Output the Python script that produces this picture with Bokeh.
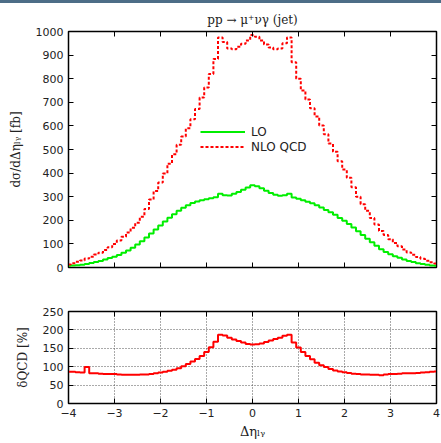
import numpy as np
from bokeh.plotting import figure
from bokeh.models import (Range1d, LinearAxis, FixedTicker, Legend, LegendItem, Div)
from bokeh.layouts import column
from bokeh.embed import file_html
from bokeh.resources import INLINE

# ---- data (bin centres, width 0.1) ----
eta_centers = np.round(np.arange(-40, 41) / 10.0, 1)

lo_fb = [7, 8, 10, 12, 15, 19, 23, 28, 34, 40,
         46, 53, 62, 72, 84, 97, 111, 127, 144, 161,
         178, 195, 211, 226, 240, 253, 264, 273, 280, 285,
         289, 293, 298, 312, 306, 305, 312, 320, 329, 339,
         348,
         344, 336, 325, 316, 308, 304, 306, 313, 297, 291,
         285, 279, 272, 264, 254, 244, 234, 223, 210, 198,
         184, 170, 154, 138, 122, 107, 92, 77, 66, 56,
         48, 41, 34, 28, 23, 18, 15, 12, 9, 7]

nlo_fb = [13, 18, 24, 30, 38, 46, 55, 63, 74, 86,
          100, 114, 130, 148, 168, 190, 215, 248, 288, 324,
          360, 398, 440, 480, 520, 555, 590, 628, 672, 720,
          763, 820, 884, 975, 955, 928, 925, 935, 948, 962,
          985,
          978, 962, 945, 932, 925, 928, 950, 975, 870, 800,
          750, 712, 675, 640, 602, 565, 525, 490, 450, 415,
          380, 340, 300, 268, 240, 210, 182, 155, 138, 120,
          104, 90, 76, 64, 54, 45, 37, 29, 22, 17]

delta_qcd = [86, 86, 85, 84, 99, 82, 82, 81, 80, 80,
             80, 79, 78, 78, 78, 78, 79, 79, 80, 82,
             84, 86, 89, 92, 96, 101, 107, 114, 121, 129,
             140, 153, 168, 187, 185, 179, 174, 170, 166, 162,
             160,
             161, 163, 167, 171, 175, 179, 184, 187, 166, 152,
             140, 129, 120, 111, 104, 99, 94, 90, 87, 85,
             83, 81, 80, 79, 79, 78, 78, 77, 79, 80,
             80, 81, 82, 82, 82, 83, 84, 85, 86, 87]

x_ticks = [-4, -3, -2, -1, 0, 1, 2, 3, 4]
x_tick_labels = ["\u22124", "\u22123", "\u22122", "\u22121", "0", "1", "2", "3", "4"]
y_ticks_top = [0, 100, 200, 300, 400, 500, 600, 700, 800, 900, 1000]
y_ticks_bot = [0, 50, 100, 150, 200, 250]

TICK_FONT = "DejaVu Sans"
LABEL_FONT = "DejaVu Serif"
TXT = "#222222"


def style_axis(ax, ticks, show_labels=True, overrides=None):
    ax.ticker = FixedTicker(ticks=ticks)
    ax.major_tick_in = 5
    ax.major_tick_out = 0
    ax.minor_tick_line_color = None
    ax.major_tick_line_color = "black"
    ax.axis_line_color = "black"
    ax.major_label_text_font = TICK_FONT
    if show_labels:
        ax.major_label_text_color = TXT
        ax.major_label_text_font_size = "11px"
        ax.major_label_standoff = 5
    else:
        # tick marks only: labels are neither drawn nor given space
        ax.major_label_text_color = None
        ax.major_label_text_alpha = 0
        ax.major_label_text_font_size = "0px"
        ax.major_label_standoff = 0
    if overrides:
        ax.major_label_overrides = overrides


x_over = {t: l for t, l in zip(x_ticks, x_tick_labels)}

# ---- top panel ----
p = figure(width=441, height=287, output_backend="svg", toolbar_location=None,
           x_range=Range1d(-4, 4), y_range=Range1d(0, 1000),
           min_border_left=68, min_border_right=5, min_border_top=28,
           min_border_bottom=23)
p.title.text = "pp \u2192 \u03bc\u207a\u03bd\u03b3 (jet)"
p.title.align = "center"
p.title.text_font = LABEL_FONT
p.title.text_font_style = "normal"
p.title.text_font_size = "12px"
p.title.text_color = TXT
p.outline_line_color = "black"
p.outline_line_width = 1.5
p.grid.visible = False
p.background_fill_color = "white"
p.border_fill_color = "white"

style_axis(p.xaxis[0], x_ticks, show_labels=False)
style_axis(p.yaxis[0], y_ticks_top)
p.yaxis[0].axis_label = "d\u03c3/d\u0394\u03b7\u2097\u1d67 [fb]"
p.yaxis[0].axis_label_text_font = LABEL_FONT
p.yaxis[0].axis_label_text_font_style = "normal"
p.yaxis[0].axis_label_text_font_size = "12px"
p.yaxis[0].axis_label_text_color = TXT
p.yaxis[0].axis_label_standoff = 10

ax_r = LinearAxis()
style_axis(ax_r, y_ticks_top, show_labels=False)
p.add_layout(ax_r, "right")
ax_t = LinearAxis()
style_axis(ax_t, x_ticks, show_labels=False)
p.add_layout(ax_t, "above")

r_lo = p.step(eta_centers, lo_fb, mode="center", line_color="#00ee00", line_width=2)
r_nlo = p.step(eta_centers, nlo_fb, mode="center", line_color="#ff0000", line_width=2,
               line_dash="3 2")

legend = Legend(items=[LegendItem(label="LO", renderers=[r_lo]),
                       LegendItem(label="NLO QCD", renderers=[r_nlo])],
                location=(132, 113), padding=0, margin=0, spacing=0,
                glyph_width=45, glyph_height=15, label_height=15, label_standoff=6,
                border_line_color=None, background_fill_alpha=0,
                label_text_font=TICK_FONT, label_text_font_size="12px",
                label_text_color=TXT)
p.add_layout(legend, "center")

# ---- bottom panel ----
q = figure(width=441, height=153, output_backend="svg", toolbar_location=None,
           x_range=Range1d(-4, 4), y_range=Range1d(0, 250),
           min_border_left=68, min_border_right=5, min_border_top=21,
           min_border_bottom=40)
q.outline_line_color = "black"
q.outline_line_width = 1.5
q.background_fill_color = "white"
q.border_fill_color = "white"

style_axis(q.xaxis[0], x_ticks, overrides=x_over)
style_axis(q.yaxis[0], y_ticks_bot)
q.xaxis[0].axis_label = "\u0394\u03b7\u2097\u1d67"
q.xaxis[0].axis_label_text_font = LABEL_FONT
q.xaxis[0].axis_label_text_font_style = "normal"
q.xaxis[0].axis_label_text_font_size = "13px"
q.xaxis[0].axis_label_text_color = TXT
q.xaxis[0].axis_label_standoff = 4
q.yaxis[0].axis_label = "\u03b4QCD [%]"
q.yaxis[0].axis_label_text_font = LABEL_FONT
q.yaxis[0].axis_label_text_font_style = "normal"
q.yaxis[0].axis_label_text_font_size = "12px"
q.yaxis[0].axis_label_text_color = TXT
q.yaxis[0].axis_label_standoff = 10

q.xgrid.ticker = FixedTicker(ticks=x_ticks)
q.ygrid.ticker = FixedTicker(ticks=y_ticks_bot)
q.grid.grid_line_color = "#555555"
q.grid.grid_line_dash = "1 2"
q.grid.grid_line_width = 1

bx_r = LinearAxis()
style_axis(bx_r, y_ticks_bot, show_labels=False)
q.add_layout(bx_r, "right")
bx_t = LinearAxis()
style_axis(bx_t, x_ticks, show_labels=False)
q.add_layout(bx_t, "above")

q.step(eta_centers, delta_qcd, mode="center", line_color="#ff0000", line_width=2)

band = Div(text="", width=441, height=3, margin=(0, 0, 0, 0),
           styles={"background-color": "#4d6d87"})

layout = column(band, p, q, spacing=0)
open("out.html", "w").write(file_html(layout, INLINE))
